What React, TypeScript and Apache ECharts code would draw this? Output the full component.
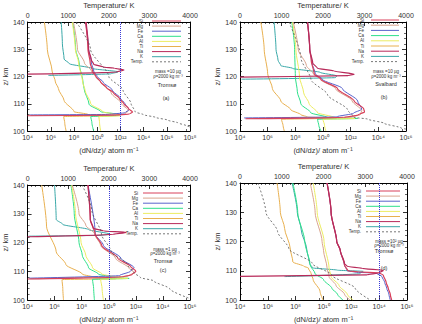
import React, { useEffect, useRef } from 'react';
import * as echarts from 'echarts';

type Pt = [number, number]; // [dN/dz (atom m^-1), altitude z (km)]

// ---- (a) Tromsø, 10 µg ----
const aSi: Pt[] = [[1e9,140],[1.6e9,130],[2.5e9,125],[4e9,122],[7.9e9,120],[2e10,118],[6.3e10,116],[2.5e11,114],[7.9e11,112],[2e12,110],[5e12,108.3],[1.1e13,107],[6.3e12,106.2],[3.2e11,105.8],[1e4,105.6]];
const aMg: Pt[] = [[8.9e7,140],[2e8,130],[7.9e8,125],[3.2e9,122],[7.1e9,120],[2e10,118],[1.6e11,114],[1.3e12,110],[5e12,107.5],[2.5e12,106.2],[1e11,105.9],[2e4,105.7]];
const aFe: Pt[] = [[1e9,140],[1.8e9,130],[3.2e9,125],[5e9,122],[1e10,120],[3.2e10,118],[2e11,115],[1e12,112],[2.5e12,110],[5.6e12,107.8],[2.5e12,106.7],[1e11,106.1],[1.6e4,105.9]];
const aCa: Pt[] = [[7.9e7,140],[1.4e8,130],[2.8e8,125],[6.3e8,117.3],[7.4e8,115.6],[2e9,109.8],[2e10,107.1],[6.3e11,106.1],[7.9e11,105.7],[2.8e9,105.3],[3.5e9,103],[5e9,100]];
const aAl: Pt[] = [[7.1e7,140],[1.3e8,130],[2.5e8,125],[5.6e8,118],[8.9e8,115],[2.8e9,110],[3.2e10,107],[6.3e11,106],[1e12,105.6],[1.4e10,105.3],[1.6e10,103],[2e10,100]];
const aTi: Pt[] = [[2.8e5,140],[5e5,130],[1.3e6,122],[2.5e6,118],[4.5e6,115.6],[1.4e7,111.2],[1e8,107.1],[1.6e9,106.1],[3.2e10,105.6],[1.3e7,105.3],[1.6e7,103],[2.1e7,100]];
const aNa: Pt[] = [[1.1e9,140],[1.8e9,130],[3.2e9,126],[5e9,124.5],[3.2e10,123.5],[3.2e11,123],[2e12,122.4],[4e11,121.6],[1e4,120.9]];
const aK: Pt[] = [[7.9e6,140],[1e7,132],[1.4e7,126.4],[4e7,124.7],[3.2e9,123],[6.3e11,121.7],[1.6e11,121],[6.3e5,120.4]];
const aTemp: Pt[] = [[1200,140],[1550,130],[2000,120],[2350,115],[2550,110],[2650,107],[2850,106],[3150,105],[3450,104],[3700,103],[3900,102],[4000,101.5]];

// ---- (b) Svalbard, 10 µg ----
const bSi: Pt[] = [[7.6e8,140],[1.1e9,130],[1.4e9,126],[2.3e9,121],[7.1e9,119],[1.1e11,115.6],[1.8e12,111],[8.9e12,108],[1e13,107],[3.2e12,105.8],[3.2e11,105],[2.5e4,104.5]];
const bMg: Pt[] = [[7.1e7,140],[1.6e8,130],[6.3e8,124],[2e9,121],[6.3e9,119],[7.9e10,115.6],[1.3e12,111],[6.3e12,107.5],[5e12,106],[1e12,105],[3.2e4,104.6]];
const bFe: Pt[] = [[7.6e8,140],[1.1e9,130],[1.6e9,125],[2.8e9,121],[8.9e9,119],[2.5e11,115.6],[3.2e12,111],[6.3e12,108],[1.6e12,106.5],[1e11,105.2],[2e4,104.8]];
const bCa: Pt[] = [[5.6e7,140],[8.9e7,130],[1e8,120],[1.4e8,114.4],[2.5e8,110],[1.3e9,106.7],[2e10,105],[3.2e12,104.6],[4e9,104.3],[5e9,102],[7.1e9,100]];
const bAl: Pt[] = [[6.3e7,140],[1.1e8,130],[2e8,120],[4e8,114],[1e9,110],[4e9,106.7],[6.3e10,105],[2e12,104.6],[1e10,104.3],[1.3e10,102],[1.6e10,100]];
const bTi: Pt[] = [[3.2e5,140],[5.6e5,130],[1e6,121],[2.2e6,115.6],[8.9e6,111],[4.7e7,107.8],[2.5e8,106],[7.9e8,105.1],[1e11,104.7],[1e7,104.3],[1.3e7,102],[1.6e7,100]];
const bNa: Pt[] = [[7.6e8,140],[1.1e9,130],[1.8e9,125],[4e9,123],[6.3e10,122],[1.8e12,120.8],[6.3e11,120.3],[1e4,119.8]];
const bK: Pt[] = [[2.9e6,140],[4e6,130],[5.6e6,126],[8.9e6,124],[6.3e7,123],[6.3e9,121.5],[1e11,120.2],[7.9e10,119.6],[1.3e4,119]];
const bTemp: Pt[] = [[1180,140],[1470,126.7],[1710,118.9],[2110,113.3],[2590,107.8],[2750,105],[3070,104.4],[3480,102.8],[3880,101.1],[4000,100.7]];

// ---- (c) Tromsø, 1 µg ----
const cSi: Pt[] = [[2.9e8,140],[4.3e8,128],[9.8e8,123],[3e9,119],[4.7e10,114.5],[4e11,111.7],[1e12,110],[5e11,108.8],[1e11,108],[1e4,107.3]];
const cMg: Pt[] = [[2e7,140],[6.3e7,130],[2e8,126],[8.9e8,123],[2.5e9,119],[3.2e10,114.5],[3.2e11,111],[7.9e11,109.5],[2.5e11,108.3],[1.6e4,107.4]];
const cFe: Pt[] = [[2.9e8,140],[1e9,123],[4e9,119],[7.9e10,114.5],[7.4e11,111.2],[4e11,110],[6.3e10,108.5],[1.3e4,107.6]];
const cCa: Pt[] = [[1.6e7,140],[2.8e7,130],[6.3e7,120],[1.1e8,115.6],[3.2e8,111.2],[1.7e9,109],[2.7e10,107.8],[3.2e11,107.5],[6.3e8,107.2],[7.6e8,104],[8.7e8,100]];
const cAl: Pt[] = [[1.8e7,140],[3.5e7,130],[8.9e7,120],[2e8,115.6],[6.3e8,111.2],[3.2e9,109],[5e10,107.8],[2.5e11,107.5],[2.5e9,107.2],[3.2e9,104],[4e9,100]];
const cTi: Pt[] = [[1.1e5,140],[2.5e5,125.7],[1.3e6,116.8],[6.8e6,112.3],[1.1e8,109],[1e9,107.8],[3.2e10,107.4],[3.5e6,107.1],[4e6,104],[4.5e6,100]];
const cNa: Pt[] = [[2.9e8,140],[4.3e8,128],[7.1e8,125],[4e9,124],[1.9e11,123.5],[2e10,122.8],[1e4,122]];
const cK: Pt[] = [[9.8e5,140],[1.3e6,128],[4e6,126.3],[3.2e8,124.5],[1.2e10,122.9],[3.2e9,122.5],[1.2e4,122.2]];
const cTemp: Pt[] = [[1340,140],[1580,131.3],[1820,122.9],[2060,116.8],[2460,112.3],[2620,109.5],[2780,107.8],[3100,106.7],[3500,103.9],[3980,100.6]];

// ---- (d) Tromsø, 100 µg ----
const dSi: Pt[] = [[1.8e10,140],[3.5e10,130],[8.9e10,120],[1.6e11,117],[3.2e11,112],[5.6e11,110],[3.2e12,109.6],[1e14,109.3],[2e14,108.5],[3.2e14,106],[4.5e14,104],[6.3e14,102],[7.9e14,100]];
const dMg: Pt[] = [[1.1e9,140],[2.5e9,130],[7.9e9,120],[1e10,117],[1.8e10,111],[2.5e10,108],[7.9e10,105],[3.2e11,102],[7.9e11,100]];
const dFe: Pt[] = [[1.8e10,140],[3.5e10,130],[8.9e10,120],[1.6e11,117],[3.2e11,112],[5e11,110],[2e12,109.5],[6.3e13,109.2],[1.6e14,108],[2.5e14,106],[3.5e14,104],[5e14,102],[6.3e14,100]];
const dCa: Pt[] = [[6.3e7,140],[1.4e8,130],[4.5e8,120],[1.1e9,112],[2.5e9,109],[1e10,107],[4e10,104],[1e11,102],[2.5e11,100]];
const dAl: Pt[] = [[1.8e9,140],[3.5e9,130],[1.1e10,120],[2.5e10,111],[3.5e10,108],[1.3e11,105],[5e11,102],[1.3e12,100]];
const dTi: Pt[] = [[4.6e6,140],[7.9e6,130],[1.6e7,124.5],[4e7,117.8],[6.3e7,113],[4e8,111.5],[7.9e8,111],[1.3e9,109],[1.8e9,107],[5.6e9,103],[9.3e9,100]];
const dNa: Pt[] = [[1.8e10,140],[3.5e10,130],[8.9e10,120],[1.6e11,117],[3.2e11,112.5],[5e11,111.5],[6.3e12,110.8],[2e14,110.1],[1e14,109.3],[1.3e13,108.6],[1e4,108.1]];
const dK: Pt[] = [[5.5e7,140],[1.3e8,130],[2.5e8,124],[6.3e8,117.3],[1e9,112.5],[1.6e9,111],[1e11,110.2],[7.1e12,109.8],[4e12,109],[1.6e7,108]];
const dTemp: Pt[] = [[430,140],[620,130],[900,123.4],[1170,117.5],[1730,112.5],[2200,108.5],[2760,104],[3120,100]];

const ELEMENTS = ['Si', 'Mg', 'Fe', 'Ca', 'Al', 'Ti', 'Na', 'K'];
const DRAW_ORDER = ['Ti', 'K', 'Ca', 'Al', 'Mg', 'Fe', 'Si', 'Na'];
const COLORS: Record<string, string> = {
  Si: '#d8405a', Mg: '#d9a48e', Fe: '#5a64cc', Ca: '#2ee08a',
  Al: '#ecec62', Ti: '#e8b050', Na: '#b82a5a', K: '#3aa8a8',
};
const TEMP_COLOR = '#555555';
const TEXT = '#333333';
const FONT = 'Liberation Sans, Arial, sans-serif';

interface Panel {
  grid: { left: number; top: number; width: number; height: number };
  xMax: number;
  profiles: Record<string, Pt[]>;
  temp: Pt[];
  vline?: number;
  legend: { tx: number; x1: number; x2: number; y0: number; dy: number };
  notes: { t: string; x: number; y: number; s: number }[];
}

const PANELS: Panel[] = [
  {
    grid: { left: 26, top: 13, width: 164, height: 118 }, xMax: 1e18,
    profiles: { Si: aSi, Mg: aMg, Fe: aFe, Ca: aCa, Al: aAl, Ti: aTi, Na: aNa, K: aK },
    temp: aTemp, vline: 1e12,
    legend: { tx: 143, x1: 152, x2: 181, y0: 21, dy: 5.1 },
    notes: [
      { t: 'mass =10 µg', x: 168, y: 71, s: 4.5 },
      { t: 'ρ=2000 kg m⁻³', x: 168, y: 76, s: 4.5 },
      { t: 'Tromsø', x: 167, y: 85, s: 5.5 },
      { t: '(a)', x: 166, y: 98, s: 5.5 },
    ],
  },
  {
    grid: { left: 240, top: 11, width: 166, height: 120 }, xMax: 1e16,
    profiles: { Si: bSi, Mg: bMg, Fe: bFe, Ca: bCa, Al: bAl, Ti: bTi, Na: bNa, K: bK },
    temp: bTemp,
    legend: { tx: 364, x1: 371, x2: 399, y0: 20, dy: 5.2 },
    notes: [
      { t: 'mass =10 µg', x: 386, y: 71, s: 4.5 },
      { t: 'ρ=2000 kg m⁻³', x: 386, y: 76, s: 4.5 },
      { t: 'Svalbard', x: 386, y: 84, s: 5.5 },
      { t: '(b)', x: 384, y: 97, s: 5.5 },
    ],
  },
  {
    grid: { left: 24, top: 185, width: 166, height: 120 }, xMax: 1e16,
    profiles: { Si: cSi, Mg: cMg, Fe: cFe, Ca: cCa, Al: cAl, Ti: cTi, Na: cNa, K: cK },
    temp: cTemp, vline: 1e10,
    legend: { tx: 138, x1: 143, x2: 183, y0: 193, dy: 5.1 },
    notes: [
      { t: 'mass =1 µg', x: 165, y: 249, s: 4.5 },
      { t: 'ρ=2000 kg m⁻³', x: 165, y: 253.5, s: 4.5 },
      { t: 'Tromsø', x: 163, y: 261, s: 5.5 },
      { t: '(c)', x: 163, y: 270, s: 5.5 },
    ],
  },
  {
    grid: { left: 240, top: 183, width: 167, height: 118 }, xMax: 1e16,
    profiles: { Si: dSi, Mg: dMg, Fe: dFe, Ca: dCa, Al: dAl, Ti: dTi, Na: dNa, K: dK },
    temp: dTemp, vline: 1e14,
    legend: { tx: 361, x1: 366, x2: 400, y0: 191, dy: 5.1 },
    notes: [
      { t: 'mass =10² µg', x: 389, y: 241, s: 4.5 },
      { t: 'ρ=2000 kg m⁻³', x: 389, y: 245.5, s: 4.5 },
      { t: 'Tromsø', x: 384, y: 251, s: 5.5 },
      { t: '(d)', x: 384, y: 268, s: 5.5 },
    ],
  },
];

const SUP: Record<string, string> = { '0': '⁰', '1': '¹', '2': '²', '3': '³', '4': '⁴', '5': '⁵', '6': '⁶', '7': '⁷', '8': '⁸', '9': '⁹' };
const powLabel = (v: number) => {
  const e = String(Math.round(Math.log10(v)));
  return '10' + e.split('').map((c) => SUP[c]).join('');
};

function buildOption() {
  const grid: any[] = [];
  const xAxis: any[] = [];
  const yAxis: any[] = [];
  const series: any[] = [];
  const graphic: any[] = [];

  const line = { lineStyle: { color: '#000', width: 1 } };
  const tick = (len: number) => ({ show: true, inside: true, length: len, lineStyle: { color: '#000', width: 0.8 } });
  const minor = (n: number) => ({ show: true, splitNumber: n, length: 2, lineStyle: { color: '#000', width: 0.6 } });

  PANELS.forEach((p, i) => {
    grid.push({ ...p.grid });
    // bottom: column density, log scale, a label every second decade
    xAxis.push({
      gridIndex: i, type: 'log', logBase: 10, min: 1e4, max: p.xMax, interval: 2,
      position: 'bottom', axisLine: line, axisTick: tick(4), minorTick: minor(2),
      splitLine: { show: false },
      axisLabel: { fontSize: 7, color: TEXT, fontFamily: FONT, margin: 3, formatter: powLabel },
      name: '(dN/dz)/ atom m⁻¹', nameLocation: 'middle', nameGap: 15,
      nameTextStyle: { fontSize: 7.5, color: TEXT, fontFamily: FONT },
    });
    // top: temperature
    xAxis.push({
      gridIndex: i, type: 'value', min: 0, max: 4000, interval: 1000, position: 'top',
      axisLine: line, axisTick: tick(4), minorTick: minor(10),
      splitLine: { show: false },
      axisLabel: { fontSize: 7, color: TEXT, fontFamily: FONT, margin: 3, formatter: (v: number) => String(v) },
      name: 'Temperature/ K', nameLocation: 'middle', nameGap: 13,
      nameTextStyle: { fontSize: 7.5, color: TEXT, fontFamily: FONT },
    });
    yAxis.push({
      gridIndex: i, type: 'value', min: 100, max: 140, interval: 10, position: 'left',
      axisLine: line, axisTick: tick(4), minorTick: minor(5),
      splitLine: { show: false },
      axisLabel: { fontSize: 7, color: TEXT, fontFamily: FONT, margin: 3 },
      name: 'z/ km', nameLocation: 'middle', nameGap: 18, nameRotate: 90,
      nameTextStyle: { fontSize: 7.5, color: TEXT, fontFamily: FONT },
    });
    yAxis.push({
      gridIndex: i, type: 'value', min: 100, max: 140, interval: 10, position: 'right',
      axisLine: line, axisTick: tick(4), minorTick: minor(5),
      splitLine: { show: false }, axisLabel: { show: false },
    });

    DRAW_ORDER.forEach((el) => {
      const s: any = {
        name: el, type: 'line', xAxisIndex: 2 * i, yAxisIndex: 2 * i,
        data: p.profiles[el], showSymbol: false, symbol: 'none',
        smooth: 0.25, smoothMonotone: 'y',
        lineStyle: { color: COLORS[el], width: el === 'Si' || el === 'Na' ? 1.2 : 1 },
        itemStyle: { color: COLORS[el] },
      };
      if (el === 'Si' && p.vline) {
        s.markLine = {
          silent: true, symbol: 'none', label: { show: false },
          lineStyle: { color: '#3a3ad8', type: 'dotted', width: 1 },
          data: [{ xAxis: p.vline }],
        };
      }
      series.push(s);
    });
    series.push({
      name: 'Temp.', type: 'line', xAxisIndex: 2 * i + 1, yAxisIndex: 2 * i,
      data: p.temp, showSymbol: false, symbol: 'none', smooth: 0.25, smoothMonotone: 'y',
      lineStyle: { color: TEMP_COLOR, width: 0.8, type: [2, 2] }, itemStyle: { color: TEMP_COLOR },
    });

    // in-frame key
    const lg = p.legend;
    [...ELEMENTS, 'Temp.'].forEach((name, k) => {
      const y = lg.y0 + k * lg.dy;
      graphic.push({
        type: 'text', x: lg.tx, y, silent: true,
        style: { text: name, fontSize: 4.5, fontFamily: FONT, fill: TEXT, textAlign: 'right', textVerticalAlign: 'middle' },
      });
      const isTemp = name === 'Temp.';
      graphic.push({
        type: 'line', silent: true,
        shape: { x1: lg.x1, y1: y, x2: lg.x2, y2: y },
        style: { stroke: isTemp ? TEMP_COLOR : COLORS[name], lineWidth: isTemp ? 0.8 : 1, lineDash: isTemp ? [2, 2] : null },
      });
    });
    p.notes.forEach((n) => {
      graphic.push({
        type: 'text', x: n.x, y: n.y, silent: true,
        style: { text: n.t, fontSize: n.s, fontFamily: FONT, fill: TEXT, textAlign: 'center', textVerticalAlign: 'middle' },
      });
    });
  });

  return {
    animation: false,
    backgroundColor: '#ffffff',
    grid, xAxis, yAxis, series, graphic,
  };
}

export default function App() {
  const ref = useRef<HTMLDivElement>(null);
  useEffect(() => {
    document.body.style.margin = '0';
    if (!ref.current) return;
    const chart = echarts.init(ref.current, undefined, { renderer: 'svg' });
    chart.setOption(buildOption() as any);
    return () => chart.dispose();
  }, []);
  return <div ref={ref} style={{ width: 422, height: 324 }} />;
}
